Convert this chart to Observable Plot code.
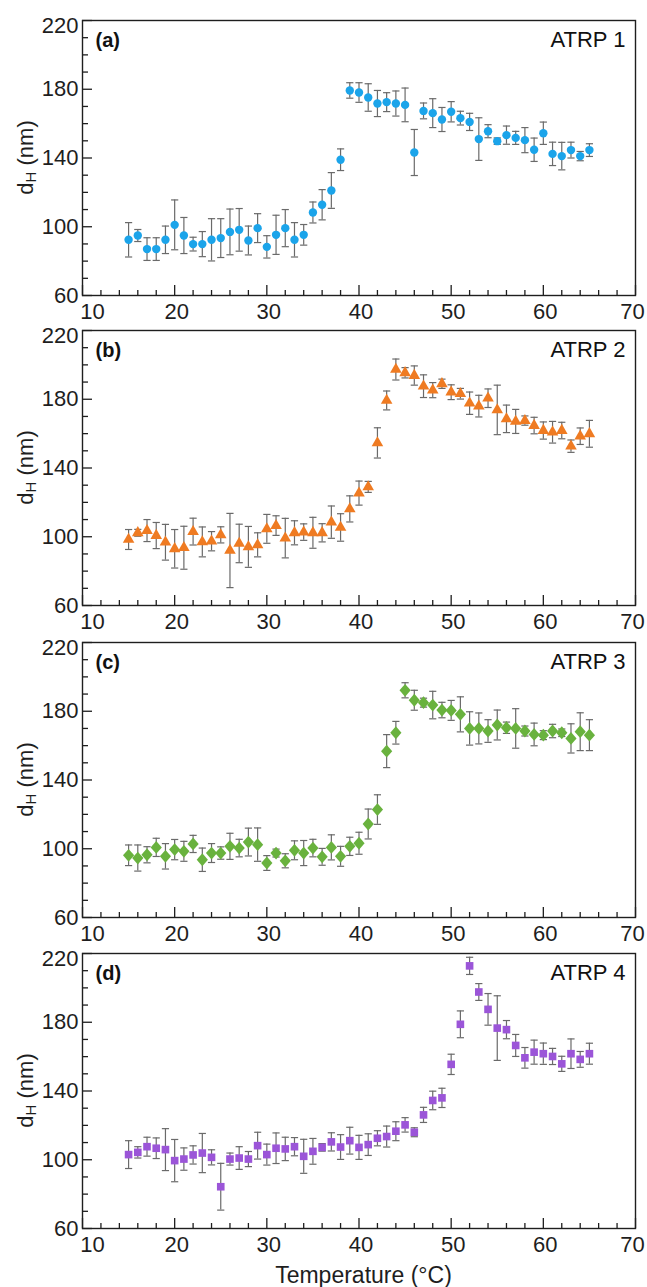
<!DOCTYPE html>
<html>
<head>
<meta charset="utf-8">
<script src="https://cdn.jsdelivr.net/npm/d3@7"></script>
<script src="https://cdn.jsdelivr.net/npm/@observablehq/plot@0.6"></script>
<style>
  html, body { margin: 0; padding: 0; background: #fff; }
  #chart svg { display: block; }
</style>
</head>
<body>
<div id="chart"></div>
<script>
// Temperatures (°C)
const temps = [15,16,17,18,19,20,21,22,23,24,25,26,27,28,29,30,31,32,33,34,35,36,37,38,39,40,
  41,42,43,44,45,46,47,48,49,50,51,52,53,54,55,56,57,58,59,60,61,62,63,64,65];

// (a) ATRP 1 — d_H (nm) and error
const dhA = [92.4,94.9,87.0,87.0,92.4,101.1,94.9,89.9,89.9,92.4,93.4,97.0,98.2,92.0,99.2,88.3,95.3,99.2,92.4,95.3,
  108.3,112.8,121.1,139.0,179.3,178.1,175.2,171.7,172.5,171.7,170.9,143.2,167.4,166.1,162.4,166.9,163.2,161.0,151.0,155.6,
  149.8,153.3,151.7,150.4,144.8,154.4,142.4,141.1,144.6,141.1,144.6];
const errA = [10,3.5,6.6,6.6,8,14.5,10.5,4,7.3,12.3,11.3,13.3,12.4,8.4,8.4,6.5,11.4,10.8,10,6,
  6.1,8.8,10.4,6.3,4.5,5.7,8,7.6,5.5,7.3,9.8,13.4,4.6,8.4,7,5.9,4,5,12.4,3.8,
  1.9,5.3,3.8,7.3,6.8,6.5,6.8,8,4.6,2.7,3.7];

// (b) ATRP 2
const dhB = [98.4,102.3,103.6,100.7,96.8,93.0,93.6,103.0,97.0,97.4,101.1,92.0,96.1,94.1,95.3,104.6,106.5,99.2,102.3,102.7,
  102.3,102.3,108.5,105.4,116.2,125.4,129.0,154.6,179.3,197.3,195.4,193.8,187.6,185.3,189.0,184.1,183.2,177.7,176.0,180.6,
  173.8,168.6,167.1,167.6,164.7,161.8,160.8,161.8,152.7,158.5,159.9];
const errB = [5.8,2,6.4,7.6,10.4,11.2,12.5,7.8,8.7,5.6,4.7,21.6,11.2,11.9,7,8.4,5.7,11.5,7,4.8,
  9,5.3,9.4,8,7.6,7,3.2,8.8,5.5,6.1,3,5.6,6.6,4.4,2.7,4.3,3.1,6.5,6.3,5.4,
  14.4,8,7,2.7,4.8,5,6.3,4.8,3.6,4.8,7.8];

// (c) ATRP 3
const dhC = [96.2,94.6,96.5,100.8,95.6,99.5,98.5,102.8,93.6,97.5,97.5,101.4,100.4,103.9,102.4,91.7,97.5,93.0,99.1,97.5,
  100.4,95.3,100.8,95.6,101.4,103.2,114.4,122.8,156.8,167.5,192.2,186.4,185.0,183.6,180.7,180.5,178.2,170.0,170.0,168.5,
  172.0,170.4,170.0,168.5,166.5,166.1,168.5,167.5,164.2,168.1,166.1];
const errC = [6,7.6,4.7,5.3,7.4,5.9,5.8,5,6.8,5.5,3.6,7.6,5.1,8.1,9.7,4.3,2.3,4.1,5.5,7.3,
  5.1,4.9,7.3,5.8,5.3,6.4,8.7,8.6,9.6,6.6,4.4,5.8,2.6,8,4.5,5.8,10.2,9.7,9,6.6,
  8.7,3.3,11.5,2.9,6.6,2.6,3.9,2.2,8.5,11,9];

// (d) ATRP 4
const dhD = [103.0,104.3,107.6,106.7,105.9,99.5,100.4,102.8,103.9,101.4,84.3,100.4,101.0,100.4,108.2,103.0,106.7,106.3,107.6,102.0,
  104.9,107.2,110.4,107.4,111.1,107.2,108.8,112.5,113.5,116.6,120.3,116.0,126.1,134.5,136.0,155.5,178.8,212.8,197.6,187.5,
  176.6,175.7,166.5,159.3,162.6,161.7,160.1,155.8,161.7,158.4,161.7];
const errD = [8.1,3.3,5.5,6,12.2,12.3,6.5,5.3,11.4,4.4,13.6,3.5,6.6,4.4,7.8,6.1,8.9,6.8,5.3,9.9,
  7.5,2.2,5.3,7.2,7.8,7,6.3,4.4,6.1,5.5,4.2,2.6,4.4,5.4,5.6,5.9,7.8,5,4.9,9.2,
  18.8,5.3,6.4,6,7,6.2,4.7,4.4,8.6,4.6,6.1];

// Panel labels and series names
const panelLabels = ["(a)", "(b)", "(c)", "(d)"];
const seriesNames = ["ATRP 1", "ATRP 2", "ATRP 3", "ATRP 4"];

// Axis ticks
const xMajor = [10,20,30,40,50,60,70];
const xMinor = [12,14,16,18,22,24,26,28,32,34,36,38,42,44,46,48,52,54,56,58,62,64,66,68];
const yMajor = [60,100,140,180,220];
const yMinor = [70,80,90,110,120,130,150,160,170,190,200,210];

// Styles
const colors = ["#1ba4ea", "#ef7b22", "#69b23e", "#9b55d8"];
const diamond = {draw(ctx) { const w = 5.6, h = 6.4; ctx.moveTo(0,-h); ctx.lineTo(w,0); ctx.lineTo(0,h); ctx.lineTo(-w,0); ctx.closePath(); }};
const cap = {draw(ctx) { const w = 3.6; ctx.moveTo(-w,0); ctx.lineTo(w,0); }};
const symbols = ["circle", "triangle", diamond, "square"];
const radii = [4.2, 4.3, 4.2, 4.3];

const series = [[dhA, errA], [dhB, errB], [dhC, errC], [dhD, errD]];
// per-panel SVG layout: [marginTop, marginBottom]
const layout = [[20, 27], [8, 28], [9, 28], [8, 59]];

const W = 647, ML = 82, MR = 12, FH = 275;
const FW = W - ML - MR;
const font = "'Liberation Sans', Arial, Helvetica, sans-serif";
const ink = "#1e1e1e";

const root = document.getElementById("chart");

series.forEach(([vals, errs], i) => {
  const rows = temps.map((t, k) => ({t, v: vals[k], e: errs[k]}));
  const last = i === 3;
  const [MT, MB] = layout[i];
  const height = MT + FH + MB;
  const axisOpts = {tickSize: 0, tickPadding: 8, label: null, fill: ink};
  const chart = Plot.plot({
    width: W, height,
    marginLeft: ML, marginRight: MR, marginTop: MT, marginBottom: MB,
    style: {fontFamily: font, fontSize: "22px", color: ink, overflow: "visible", background: "transparent"},
    x: {domain: [10, 70]},
    y: {domain: [60, 220]},
    marks: [
      Plot.tickX(xMinor, {x: d => d, insetTop: FH - 5, stroke: ink, strokeWidth: 1.3}),
      Plot.tickX(xMajor, {x: d => d, insetTop: FH - 10, stroke: ink, strokeWidth: 1.3}),
      Plot.tickY(yMinor, {y: d => d, insetRight: FW - 6, stroke: ink, strokeWidth: 1.3}),
      Plot.tickY(yMajor, {y: d => d, insetRight: FW - 10, stroke: ink, strokeWidth: 1.3}),
      Plot.axisX(xMajor.slice(0, 1), {...axisOpts, dx: 10}),
      Plot.axisX(xMajor.slice(1, 6), {...axisOpts, dx: 2}),
      Plot.axisX(xMajor.slice(6), {...axisOpts, dx: -3}),
      Plot.axisY(yMajor.slice(0, 4), {tickSize: 0, tickPadding: 4, label: null, fill: ink}),
      Plot.axisY(yMajor.slice(4), {tickSize: 0, tickPadding: 4, dy: 5, label: null, fill: ink}),
      Plot.ruleX(rows, {x: "t", y1: d => d.v - d.e, y2: d => d.v + d.e, stroke: "#6a6a6a", strokeWidth: 1.2}),
      Plot.dot(rows, {x: "t", y: d => d.v + d.e, symbol: cap, r: 3, stroke: "#6a6a6a", fill: "none", strokeWidth: 1.2}),
      Plot.dot(rows, {x: "t", y: d => d.v - d.e, symbol: cap, r: 3, stroke: "#6a6a6a", fill: "none", strokeWidth: 1.2}),
      Plot.dot(rows, {x: "t", y: "v", symbol: symbols[i], r: radii[i], fill: colors[i], stroke: "none"}),
      Plot.frame({stroke: ink, strokeWidth: 1.4}),
      Plot.text([panelLabels[i]], {frameAnchor: "top-left", dx: 13, dy: 12, lineAnchor: "top", textAnchor: "start",
        text: d => d, fontWeight: "bold", fontSize: 20, fill: "#111"}),
      Plot.text([seriesNames[i]], {frameAnchor: "top-right", dx: -10, dy: 11, lineAnchor: "top", textAnchor: "end",
        text: d => d, fontSize: 22, fill: "#111"})
    ]
  });
  const svg = d3.select(chart);
  // y-axis label with subscript
  const yl = svg.append("text")
    .attr("transform", `translate(25, ${MT + FH / 2}) rotate(-90)`)
    .attr("text-anchor", "middle")
    .attr("dominant-baseline", "central")
    .attr("font-family", font)
    .attr("font-size", 22)
    .attr("fill", ink);
  yl.append("tspan").text("d");
  yl.append("tspan").attr("font-size", 15).attr("dy", 5).text("H");
  yl.append("tspan").attr("dy", -5).text(" (nm)");
  if (last) {
    svg.append("text")
      .attr("x", ML + FW / 2 + 5)
      .attr("y", MT + FH + 47)
      .attr("text-anchor", "middle")
      .attr("dominant-baseline", "central")
      .attr("font-family", font)
      .attr("font-size", 23)
      .attr("fill", ink)
      .text("Temperature (°C)");
  }
  root.appendChild(chart);
});
</script>
</body>
</html>
